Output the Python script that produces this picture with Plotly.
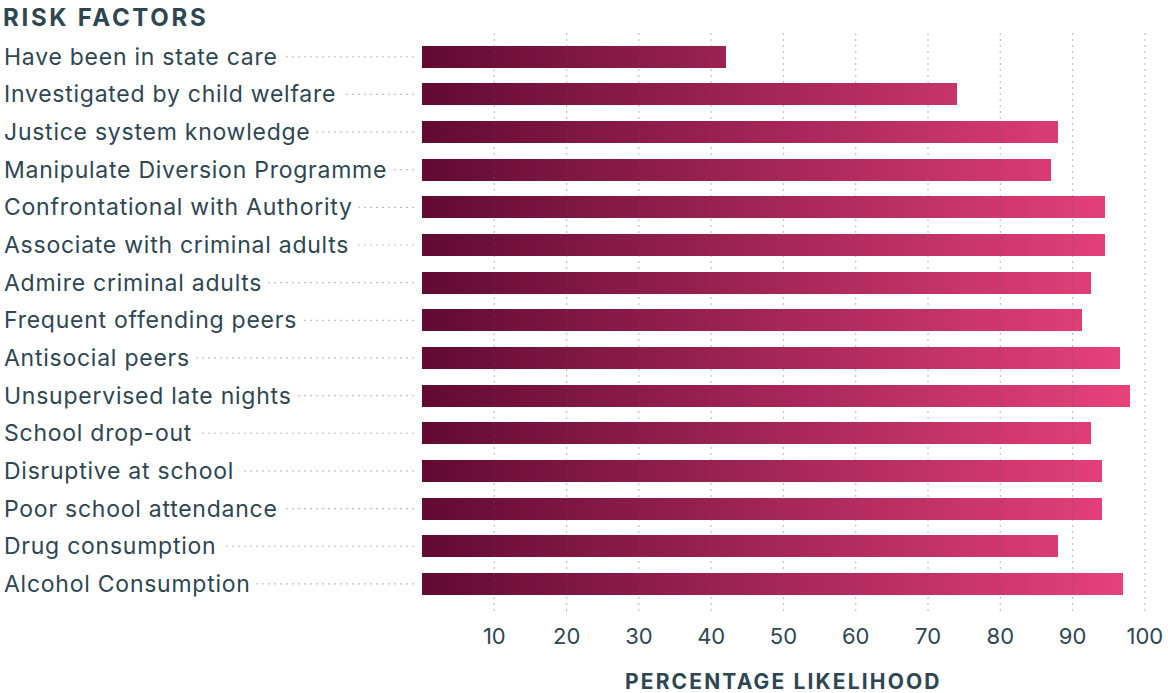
import plotly.graph_objects as go
import numpy as np

categories = [
    "Have been in state care",
    "Investigated by child welfare",
    "Justice system knowledge",
    "Manipulate Diversion Programme",
    "Confrontational with Authority",
    "Associate with criminal adults",
    "Admire criminal adults",
    "Frequent offending peers",
    "Antisocial peers",
    "Unsupervised late nights",
    "School drop-out",
    "Disruptive at school",
    "Poor school attendance",
    "Drug consumption",
    "Alcohol Consumption",
]
values = [42, 74, 88, 87, 94.5, 94.5, 92.5, 91.3, 96.5, 98, 92.5, 94, 94, 88, 97]
tick_values = [10, 20, 30, 40, 50, 60, 70, 80, 90, 100]
tick_labels = ["10", "20", "30", "40", "50", "60", "70", "80", "90", "100"]

TEXT = "#2e4652"
C0 = np.array([0x62, 0x0a, 0x32])
C1 = np.array([0xea, 0x43, 0x7d])

fig = go.Figure()

# gradient bars: overlapping segments, each running to the bar's end
step = 0.5
starts = np.arange(0, 100, step)
for s in starts:
    widths = [v - s if v > s else None for v in values]
    if all(w is None for w in widths):
        continue
    t = (s + step / 2) / 100
    c = C0 + (C1 - C0) * t
    color = "rgba(%d,%d,%d,0.999)" % tuple(np.round(c).astype(int))
    fig.add_trace(go.Bar(
        y=categories, x=widths, base=[s] * len(values), orientation="h",
        width=0.585,
        marker=dict(color=color, line=dict(width=0)),
        hoverinfo="skip", showlegend=False,
    ))

shapes = []
# dotted gridlines drawn above bars
for tv in tick_values:
    shapes.append(dict(type="line", xref="x", yref="paper", x0=tv, x1=tv, y0=0, y1=1,
                       line=dict(color="rgba(70,100,110,0.38)", width=1.2, dash="2px,4px"),
                       layer="above"))
# leader lines
for c in categories:
    shapes.append(dict(type="line", xref="x", yref="y", x0=-57, x1=-0.8, y0=c, y1=c,
                       line=dict(color="#b7c2c6", width=1.2, dash="2px,4px"),
                       layer="below"))


def spaced(txt, ls):
    return '<span style="letter-spacing:%spx">%s</span>' % (ls, txt)


annotations = []
for c in categories:
    annotations.append(dict(xref="paper", yref="y", x=-2 / 1168, y=c, text=spaced(c, 0.75),
                            xanchor="left", yanchor="middle", showarrow=False,
                            bgcolor="white", borderpad=5,
                            font=dict(family="Inter", size=23, color=TEXT)))
annotations.append(dict(xref="paper", yref="paper", x=-2 / 1168, y=1 + 13 / 581,
                        text="<b>" + spaced("RISK FACTORS", 2.7) + "</b>",
                        xanchor="left", yanchor="middle", borderpad=4,
                        showarrow=False, font=dict(family="Inter", size=24, color=TEXT)))
annotations.append(dict(xref="x", yref="paper", x=50, y=-70 / 581,
                        text="<b>" + spaced("PERCENTAGE LIKELIHOOD", 2.15) + "</b>",
                        xanchor="center", yanchor="middle",
                        showarrow=False, font=dict(family="Inter", size=21, color=TEXT)))

fig.update_layout(
    width=1168, height=693,
    margin=dict(l=0, r=0, t=30, b=82),
    paper_bgcolor="white", plot_bgcolor="white",
    barmode="overlay", bargap=0, bargroupgap=0,
    shapes=shapes, annotations=annotations,
    xaxis=dict(range=[-58.39, 103.2], tickvals=tick_values, ticktext=tick_labels,
               showgrid=False, zeroline=False, showline=False, ticks="",
               ticklabelstandoff=10,
               tickfont=dict(family="Inter", size=22, color=TEXT), fixedrange=True),
    yaxis=dict(type="category", categoryorder="array", categoryarray=categories,
               range=[14.72, -0.71], showticklabels=False, showgrid=False,
               zeroline=False, showline=False, ticks="", fixedrange=True),
)

fig.write_html("out.html")
